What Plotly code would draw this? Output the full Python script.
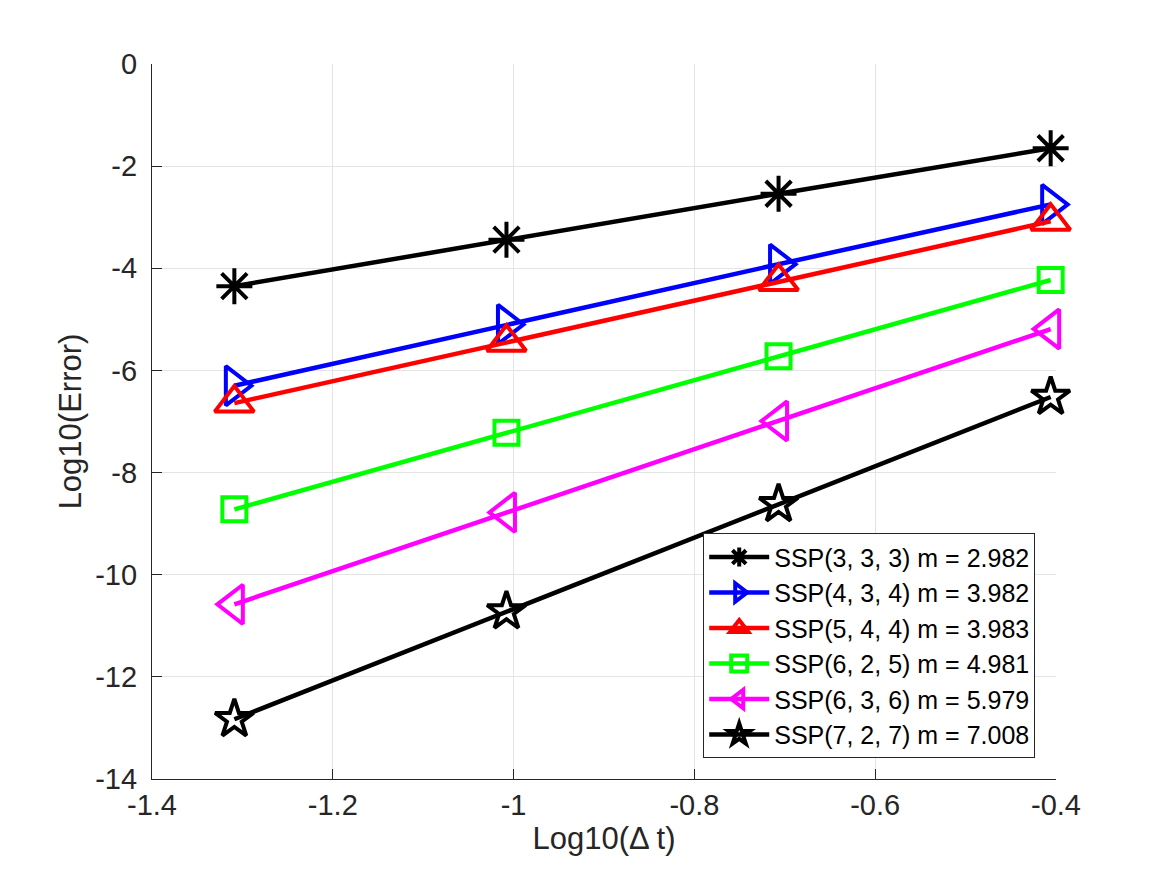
import plotly.graph_objects as go

log_dt = [-1.3089, -1.0079, -0.7069, -0.4059]

names = ["SSP(3, 3, 3) m = 2.982", "SSP(4, 3, 4) m = 3.982", "SSP(5, 4, 4) m = 3.983",
         "SSP(6, 2, 5) m = 4.981", "SSP(6, 3, 6) m = 5.979", "SSP(7, 2, 7) m = 7.008"]
err_333 = [-4.35, -3.44, -2.54, -1.65]
err_434 = [-6.30, -5.10, -3.92, -2.75]
err_544 = [-6.64, -5.45, -4.26, -3.08]
err_625 = [-8.72, -7.22, -5.72, -4.23]
err_636 = [-10.58, -8.78, -6.99, -5.19]
err_727 = [-12.83, -10.72, -8.62, -6.52]

series = [err_333, err_434, err_544, err_625, err_636, err_727]
colors = ["#000000", "#0000FF", "#FF0000", "#00FF00", "#FF00FF", "#000000"]
symbols = ["asterisk-open", "triangle-right-open", "triangle-up-open",
           "square-open", "triangle-left-open", "star-open"]
sizes = [30, 34, 34, 24, 34, 29]

xticks = [-1.4, -1.2, -1.0, -0.8, -0.6, -0.4]
xticklabels = ["-1.4", "-1.2", "-1", "-0.8", "-0.6", "-0.4"]
yticks = [-14, -12, -10, -8, -6, -4, -2, 0]
yticklabels = ["-14", "-12", "-10", "-8", "-6", "-4", "-2", "0"]

fig = go.Figure()
for name, ys, c, sym, sz in zip(names, series, colors, symbols, sizes):
    fig.add_trace(go.Scatter(
        x=log_dt, y=ys, name=name, mode="lines+markers", cliponaxis=False,
        line=dict(color=c, width=4.5),
        marker=dict(symbol=sym, size=sz, color=c, line=dict(color=c, width=4)),
    ))

font_family = "Liberation Sans, Arial, Helvetica, sans-serif"
axis_common = dict(
    showline=True, linecolor="#262626", linewidth=1.3, mirror=False,
    ticks="inside", ticklen=10, tickcolor="#262626", tickwidth=1.3,
    showgrid=True, gridcolor="#e4e4e4", gridwidth=1, zeroline=False,
    tickfont=dict(family=font_family, size=29, color="#262626"),
)
fig.update_xaxes(range=[-1.4, -0.4], tickvals=xticks, ticktext=xticklabels,
                 title=dict(text="Log10(Δ t)", font=dict(family=font_family, size=31, color="#262626"), standoff=2),
                 ticklabelstandoff=0, **axis_common)
fig.update_yaxes(range=[-14, 0], tickvals=yticks, ticktext=yticklabels,
                 title=dict(text="Log10(Error)", font=dict(family=font_family, size=31, color="#262626"), standoff=4),
                 ticklabelstandoff=8, **axis_common)

fig.update_layout(
    width=1167, height=875,
    margin=dict(l=152, r=111, t=64, b=96),
    paper_bgcolor="white", plot_bgcolor="white",
    font=dict(family=font_family, color="#000000"),
    showlegend=True,
    legend=dict(x=0.977, y=0.029, xanchor="right", yanchor="bottom",
                bgcolor="white", bordercolor="#262626", borderwidth=1,
                font=dict(family=font_family, size=25, color="#000000"),
                itemwidth=60, tracegroupgap=0),
)

fig.write_html("out.html")
